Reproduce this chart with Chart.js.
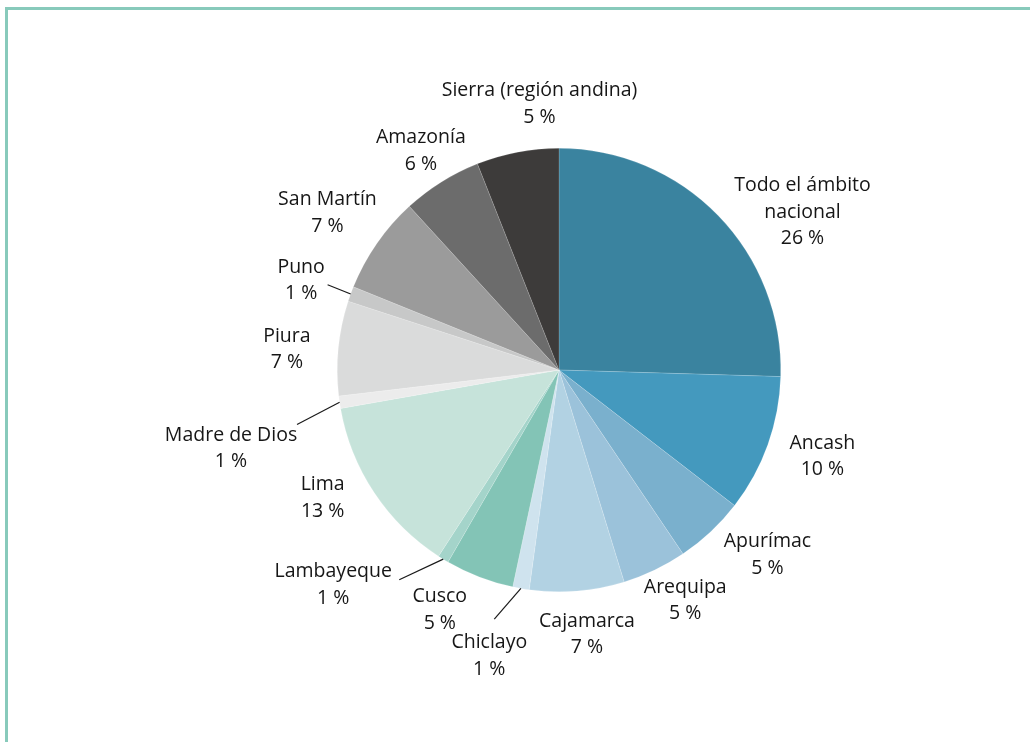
<!DOCTYPE html>
<html>
<head>
<meta charset="utf-8">
<script src="https://cdn.jsdelivr.net/npm/chart.js@4.4.1/dist/chart.umd.min.js"></script>
<style>
  html, body { margin: 0; padding: 0; background: #ffffff; }
  #wrap { position: relative; width: 1030px; height: 742px; overflow: hidden; }
  #frame { position: absolute; left: 5px; top: 7px; width: 1040px; height: 760px;
           border-left: 3px solid #88cabb; border-top: 3px solid #88cabb; box-sizing: border-box; }
  canvas { position: absolute; left: 0; top: 0; }
</style>
</head>
<body>
<div id="wrap">
  <div id="frame"></div>
  <canvas id="c" width="1030" height="742"></canvas>
</div>
<script>
// ---- data (clockwise from 12 o'clock) ----
const categories = [
  ['Todo el ámbito', 'nacional'], ['Ancash'], ['Apurímac'], ['Arequipa'], ['Cajamarca'],
  ['Chiclayo'], ['Cusco'], ['Lambayeque'], ['Lima'], ['Madre de Dios'],
  ['Piura'], ['Puno'], ['San Martín'], ['Amazonía'], ['Sierra (región andina)']
];
const shares = [25.5, 10.0, 5.1, 4.7, 6.9, 1.2, 5.0, 0.8, 13.1, 0.9, 6.9, 1.1, 7.1, 5.8, 6.0];
const percentLabels = ['26 %', '10 %', '5 %', '5 %', '7 %', '1 %', '5 %', '1 %', '13 %', '1 %', '7 %', '1 %', '7 %', '6 %', '5 %'];

// ---- styles / layout ----
const colors = ['#3a839f', '#4499be', '#7ab0cd', '#9bc2da', '#b2d2e3', '#cfe3ee', '#83c4b6', '#a4d4ca',
                '#c6e3da', '#ececec', '#dadbdb', '#c7c8c8', '#9b9b9b', '#6c6c6c', '#3d3b3a'];
const labelNudge = [[50, 30], [9.5, -4.4], [24, -12], [10, -13], [6, -4.5], [-23.4, 20.5], [-22.4, -11.7],
                    [-85, -15.3], [-11.6, -21.2], [-61.2, 39], [-3.8, 6.2], [-4.6, 2.7], [-10.1, -3.3], [4.8, 9.8], [31, -1.4]];
const leaderEnd = [null, null, null, null, null, [5, -37], null, [66, -5], null, [66, -23.7], null, [26.5, 4.5], null, null, null];

const labelPlugin = {
  id: 'outerLabels',
  afterDatasetsDraw(chart) {
    const ctx = chart.ctx;
    const meta = chart.getDatasetMeta(0);
    ctx.save();
    ctx.font = '19.5px "Open Sans", sans-serif';
    ctx.fillStyle = '#161616';
    ctx.textAlign = 'center';
    ctx.textBaseline = 'middle';
    const lineH = 26.5;
    meta.data.forEach((arc, i) => {
      const p = arc.getProps(['x', 'y', 'startAngle', 'endAngle', 'outerRadius'], true);
      const mid = (p.startAngle + p.endAngle) / 2;
      const cx = p.x + Math.cos(mid) * p.outerRadius * 1.216 + labelNudge[i][0];
      const cy = p.y + Math.sin(mid) * p.outerRadius * 1.216 + labelNudge[i][1];
      const lines = categories[i].concat([percentLabels[i]]);
      const top = cy - (lines.length - 1) * lineH / 2;
      lines.forEach((t, k) => ctx.fillText(t, cx, top + k * lineH));
      if (leaderEnd[i]) {
        ctx.beginPath();
        ctx.strokeStyle = '#1a1a1a';
        ctx.lineWidth = 1.2;
        ctx.moveTo(p.x + Math.cos(mid) * p.outerRadius, p.y + Math.sin(mid) * p.outerRadius);
        ctx.lineTo(cx + leaderEnd[i][0], cy + leaderEnd[i][1]);
        ctx.stroke();
      }
    });
    ctx.restore();
  }
};

new Chart(document.getElementById('c'), {
  type: 'pie',
  data: {
    labels: categories.map(c => c.join(' ')),
    datasets: [{
      data: shares,
      backgroundColor: colors,
      borderColor: 'rgba(255,255,255,0.3)',
      borderWidth: 0.5,
      hoverOffset: 0,
      offset: 0
    }]
  },
  options: {
    responsive: false,
    devicePixelRatio: 1,
    animation: false,
    layout: { padding: { left: 337, right: 249, top: 148, bottom: 150 } },
    plugins: { legend: { display: false }, tooltip: { enabled: false } }
  },
  plugins: [labelPlugin]
});
</script>
</body>
</html>
